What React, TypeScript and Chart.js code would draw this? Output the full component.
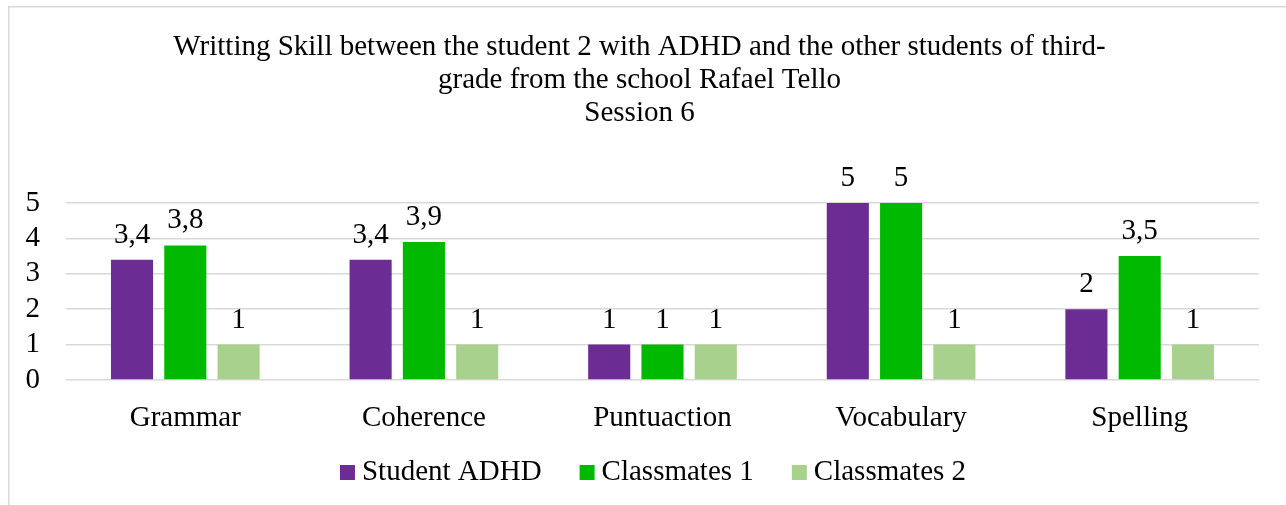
import React, { useEffect, useRef } from "react";
import { Chart, registerables } from "chart.js";

Chart.register(...registerables);

const titleLines = [
  "Writting Skill between the student 2 with ADHD and the other students of third-",
  "grade from the school Rafael Tello",
  "Session 6",
];
const categories = ["Grammar", "Coherence", "Puntuaction", "Vocabulary", "Spelling"];
const seriesNames = ["Student ADHD", "Classmates 1", "Classmates 2"];
const studentADHD = [3.4, 3.4, 1, 5, 2];
const classmates1 = [3.8, 3.9, 1, 5, 3.5];
const classmates2 = [1, 1, 1, 1, 1];
const seriesColors = ["#6B2D93", "#00B900", "#A9D18E"];
const yMin = 0;
const yMax = 5;
const yStep = 1;

const FONT = "'Liberation Serif', 'Times New Roman', serif";
const FS = 29;

const framePlugin = {
  id: "frame",
  beforeDraw(chart: any) {
    const ctx = chart.ctx;
    ctx.save();
    ctx.strokeStyle = "#d9d9d9";
    ctx.lineWidth = 1.5;
    ctx.strokeRect(8.75, 6.75, 1290, 600);
    ctx.restore();
  },
};

const labelsPlugin = {
  id: "valueLabels",
  afterDatasetsDraw(chart: any) {
    const ctx = chart.ctx;
    ctx.save();
    ctx.font = `${FS}px ${FONT}`;
    ctx.fillStyle = "#000";
    ctx.textAlign = "center";
    ctx.textBaseline = "alphabetic";
    chart.data.datasets.forEach((ds: any, di: number) => {
      const meta = chart.getDatasetMeta(di);
      meta.data.forEach((bar: any, i: number) => {
        const v = ds.data[i];
        ctx.fillText(String(v).replace(".", ","), bar.x, bar.y - 17);
      });
    });
    ctx.restore();
  },
};

const legendPlugin = {
  id: "customLegend",
  afterDraw(chart: any) {
    const ctx = chart.ctx;
    ctx.save();
    ctx.font = `${FS}px ${FONT}`;
    const box = 15;
    const gap = 7;
    const itemGap = 38;
    const items = chart.data.datasets.map((ds: any) => ({
      label: ds.label,
      color: ds.backgroundColor,
      w: ctx.measureText(ds.label).width,
    }));
    const total =
      items.reduce((s: number, it: any) => s + box + gap + it.w, 0) +
      itemGap * (items.length - 1);
    let x = 653 - total / 2;
    const baseY = 480;
    items.forEach((it: any) => {
      ctx.fillStyle = it.color;
      ctx.fillRect(x, baseY - box, box, box);
      ctx.fillStyle = "#000";
      ctx.textAlign = "left";
      ctx.textBaseline = "alphabetic";
      ctx.fillText(it.label, x + box + gap, baseY);
      x += box + gap + it.w + itemGap;
    });
    ctx.restore();
  },
};

export default function App() {
  const ref = useRef<HTMLCanvasElement | null>(null);

  useEffect(() => {
    if (!ref.current) return;
    const values = [studentADHD, classmates1, classmates2];
    const chart = new Chart(ref.current, {
      type: "bar",
      data: {
        labels: categories,
        datasets: seriesNames.map((name, i) => ({
          label: name,
          data: values[i],
          backgroundColor: seriesColors[i],
          borderWidth: 0,
          categoryPercentage: 0.67,
          barPercentage: 0.79,
        })),
      },
      options: {
        responsive: false,
        animation: false,
        devicePixelRatio: 1,
        layout: { padding: { left: 20, right: 27, top: 0, bottom: 0 } },
        plugins: {
          legend: { display: false },
          tooltip: { enabled: false },
          title: {
            display: true,
            text: titleLines,
            color: "#000",
            font: { family: FONT, size: FS, weight: "normal", lineHeight: 33 / FS },
            padding: { top: 31, bottom: 73 },
          },
        },
        scales: {
          x: {
            grid: { display: false, drawTicks: false },
            border: { display: false },
            ticks: {
              color: "#000",
              font: { family: FONT, size: FS },
              padding: 21,
            },
            afterFit: (s: any) => {
              s.height = 125;
            },
          },
          y: {
            min: yMin,
            max: yMax,
            grid: { color: "#d9d9d9", lineWidth: 1.5, drawTicks: false },
            border: { display: false },
            ticks: {
              stepSize: yStep,
              autoSkip: false,
              color: "#000",
              font: { family: FONT, size: FS },
              padding: 26,
            },
            afterFit: (s: any) => {
              s.width = 46;
            },
          },
        },
      },
      plugins: [framePlugin, labelsPlugin, legendPlugin],
    });
    return () => chart.destroy();
  }, []);

  return (
    <div style={{ position: "absolute", left: 0, top: 0, width: 1286, height: 505, background: "#fff" }}>
      <canvas ref={ref} width={1286} height={505} style={{ display: "block" }} />
    </div>
  );
}
